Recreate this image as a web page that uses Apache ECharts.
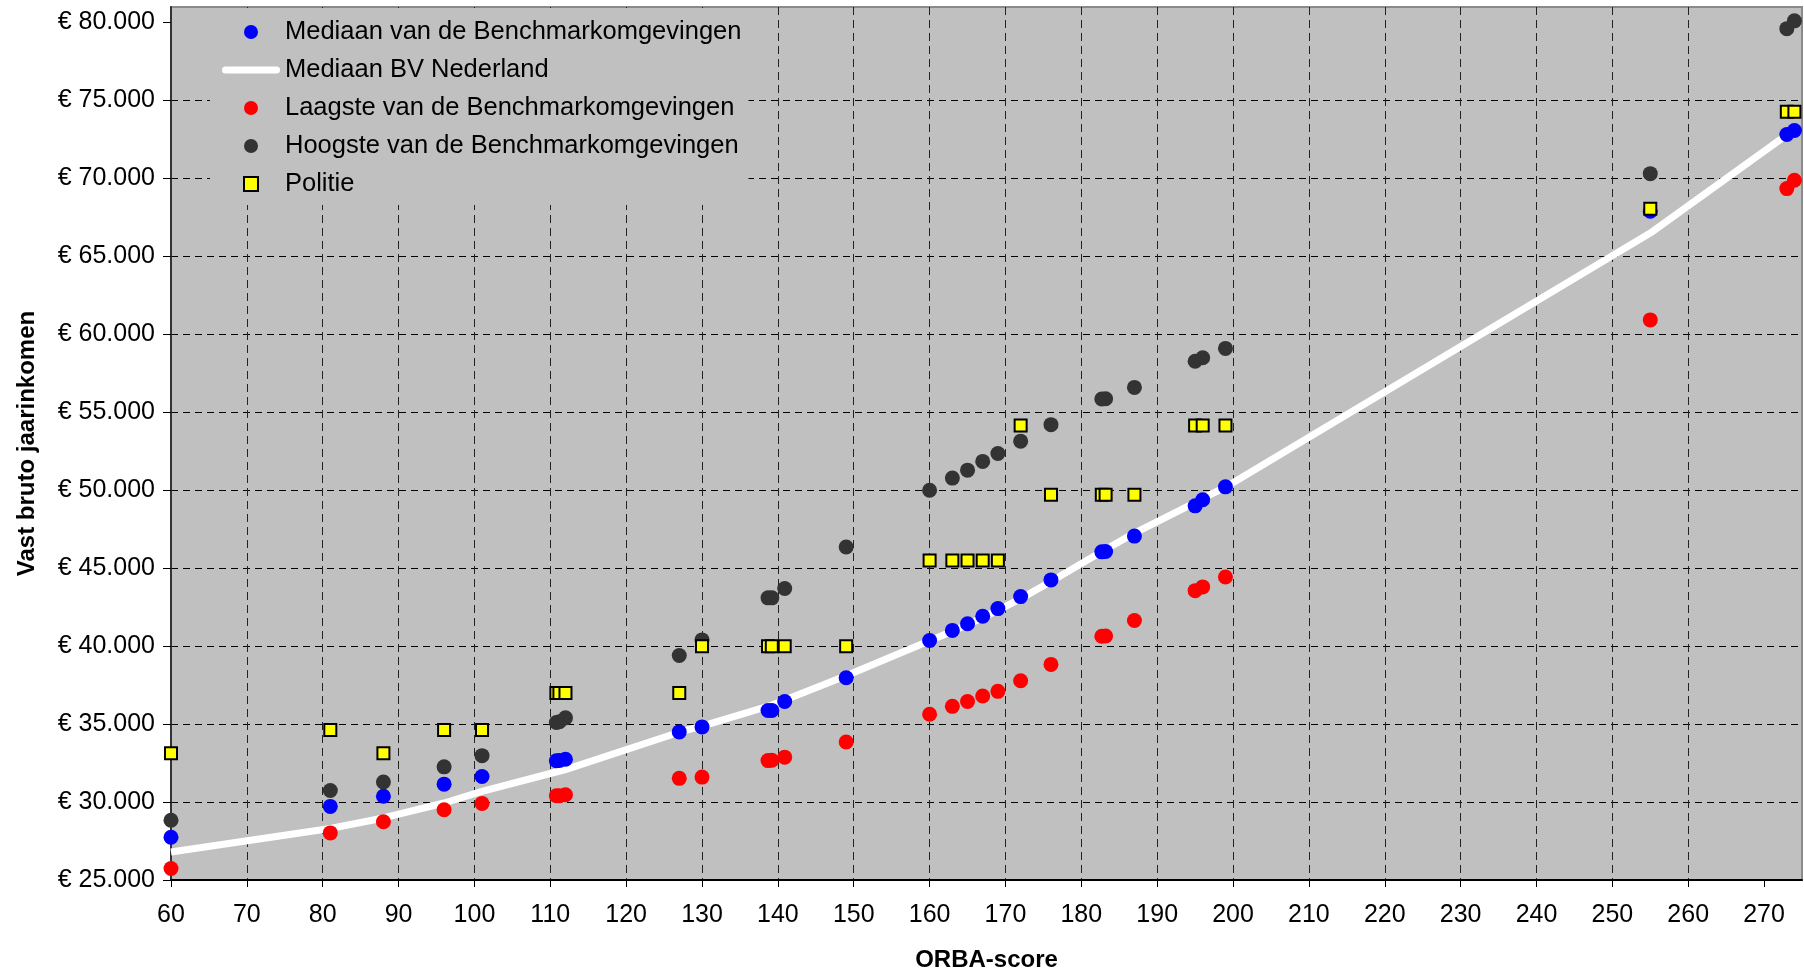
<!DOCTYPE html>
<html>
<head>
<meta charset="utf-8">
<script src="https://cdn.jsdelivr.net/npm/echarts@6/dist/echarts.min.js"></script>
<style>
html,body{margin:0;padding:0;background:#ffffff;}
#chart{width:1804px;height:976px;}
</style>
</head>
<body>
<div id="chart"></div>
<script>
// ---- data ----
const orbaScores = [60, 81, 88, 96, 101, 110.8, 111.2, 112, 127, 130, 138.7, 139.2, 140.9, 149, 160, 163, 165, 167, 169, 172, 176, 182.7, 183.2, 187, 195, 196, 199, 255, 273, 274];
const medianBenchmark = [27740, 29720, 30370, 31150, 31640, 32650, 32670, 32750, 34500, 34820, 35870, 35880, 36450, 37970, 40360, 41010, 41440, 41920, 42410, 43180, 44250, 46050, 46070, 47060, 49000, 49390, 50220, 67900, 72820, 73080];
const lowestBenchmark = [25740, 28020, 28740, 29510, 29915, 30400, 30410, 30470, 31520, 31600, 32660, 32680, 32880, 33850, 35630, 36140, 36450, 36800, 37100, 37780, 38830, 40640, 40650, 41650, 43560, 43800, 44440, 60930, 69350, 69890];
const highestBenchmark = [28830, 30740, 31290, 32260, 32975, 35100, 35150, 35400, 39400, 40400, 43100, 43100, 43700, 46360, 50000, 50780, 51290, 51850, 52360, 53150, 54210, 55850, 55870, 56600, 58280, 58500, 59100, 70310, 79610, 80110];
const politie = [33130, 34620, 33130, 34620, 34620, 37000, 37000, 37000, 37000, 40000, 40000, 40000, 40000, 40000, 45490, 45490, 45490, 45490, 45490, 54150, 49710, 49710, 49710, 49710, 54150, 54150, 54150, 68060, 74280, 74280];

const lineOrba = [60, 81, 88, 96, 101, 111, 112, 127, 130, 139, 141, 149, 160, 163, 165, 167, 169, 172, 176, 183, 187, 195, 196, 199, 255, 273];
const medianNederland = [26800, 28300, 28980, 29940, 30680, 31960, 32080, 34480, 34870, 36180, 36560, 38100, 40350, 40950, 41380, 41840, 42300, 43050, 44150, 46150, 47250, 49200, 49480, 50200, 66500, 72800];

const xTicks = [60, 70, 80, 90, 100, 110, 120, 130, 140, 150, 160, 170, 180, 190, 200, 210, 220, 230, 240, 250, 260, 270];
const yTicks = [25000, 30000, 35000, 40000, 45000, 50000, 55000, 60000, 65000, 70000, 75000, 80000];

const seriesNames = ['Mediaan van de Benchmarkomgevingen', 'Mediaan BV Nederland', 'Laagste van de Benchmarkomgevingen', 'Hoogste van de Benchmarkomgevingen', 'Politie'];

// ---- helpers ----
function pairs(xs, ys) { return xs.map((x, i) => [x, ys[i]]); }
function euro(v) { return '€ ' + String(v).replace(/\B(?=(\d{3})+(?!\d))/g, '.'); }

const FONT = 'Liberation Sans, Arial, sans-serif';
const FS = 25;
const chart = echarts.init(document.getElementById('chart'), null, { renderer: 'canvas' });

const option = {
  backgroundColor: '#ffffff',
  animation: false,
  textStyle: { fontFamily: FONT },
  grid: {
    left: 171, right: 2, top: 7, bottom: 96,
    show: true, backgroundColor: '#C0C0C0', borderColor: '#8a8a8a', borderWidth: 2,
    containLabel: false, outerBoundsMode: 'none'
  },
  legend: {
    data: [
      { name: seriesNames[0], icon: 'circle' },
      { name: seriesNames[1], icon: 'path://M3.5,0L54.5,0A3.5,3.5,0,0,1,54.5,7L3.5,7A3.5,3.5,0,0,1,3.5,0Z', itemStyle: { color: '#ffffff' } },
      { name: seriesNames[2], icon: 'circle' },
      { name: seriesNames[3], icon: 'circle' },
      { name: seriesNames[4], icon: 'path://M0,0L10,0L10,10L0,10Z', itemStyle: { color: '#FFFF00', borderColor: '#000', borderWidth: 2 } }
    ],
    orient: 'vertical',
    left: 210, top: 8,
    padding: [11, 7, 8, 12],
    backgroundColor: '#C0C0C0',
    itemWidth: 58, itemHeight: 14, itemGap: 12,
    textStyle: { fontFamily: FONT, fontSize: 25.5, lineHeight: 24, color: '#000' }
  },
  xAxis: {
    type: 'value', min: 60, max: 275, interval: 10,
    name: 'ORBA-score', nameLocation: 'middle', nameGap: 68,
    nameTextStyle: { fontFamily: FONT, fontSize: 24, fontWeight: 'bold', color: '#000' },
    axisLine: { show: true, onZero: false, lineStyle: { color: '#000', width: 2 } },
    axisTick: { show: true, inside: false, length: 7, lineStyle: { color: '#000', width: 1 }, customValues: xTicks },
    axisLabel: { fontFamily: FONT, fontSize: FS, color: '#000', margin: 23, customValues: xTicks },
    splitLine: { show: true, showMinLine: false, showMaxLine: false, lineStyle: { color: '#222', width: 1, type: [8, 5] } }
  },
  yAxis: {
    type: 'value', min: 25000, max: 81000, interval: 5000,
    name: 'Vast bruto jaarinkomen', nameLocation: 'middle', nameGap: 132,
    nameTextStyle: { fontFamily: FONT, fontSize: 24, fontWeight: 'bold', color: '#000' },
    axisLine: { show: true, onZero: false, lineStyle: { color: '#333', width: 2 } },
    axisTick: { show: true, inside: false, length: 8, lineStyle: { color: '#000', width: 1 }, customValues: yTicks },
    axisLabel: { fontFamily: FONT, fontSize: FS, color: '#000', margin: 16, formatter: euro, customValues: yTicks },
    splitLine: { show: true, showMinLine: false, showMaxLine: false, lineStyle: { color: '#000', width: 1, type: [7, 5] } }
  },
  series: [
    {
      name: seriesNames[1], type: 'line', z: 2,
      data: pairs(lineOrba, medianNederland),
      symbol: 'none', showSymbol: false, smooth: false,
      lineStyle: { color: '#ffffff', width: 7 },
      itemStyle: { color: '#ffffff' }
    },
    {
      name: seriesNames[0], type: 'scatter', z: 3,
      data: pairs(orbaScores, medianBenchmark),
      symbol: 'circle', symbolSize: 15,
      itemStyle: { color: '#0000FF', opacity: 1 }
    },
    {
      name: seriesNames[2], type: 'scatter', z: 4,
      data: pairs(orbaScores, lowestBenchmark),
      symbol: 'circle', symbolSize: 15,
      itemStyle: { color: '#FF0000', opacity: 1 }
    },
    {
      name: seriesNames[3], type: 'scatter', z: 5,
      data: pairs(orbaScores, highestBenchmark),
      symbol: 'circle', symbolSize: 15,
      itemStyle: { color: '#333333', opacity: 1 }
    },
    {
      name: seriesNames[4], type: 'scatter', z: 6,
      data: pairs(orbaScores, politie),
      symbol: 'rect', symbolSize: 12, symbolKeepAspect: true,
      itemStyle: { color: '#FFFF00', borderColor: '#000', borderWidth: 2, opacity: 1 }
    }
  ]
};
chart.setOption(option);
</script>
</body>
</html>
